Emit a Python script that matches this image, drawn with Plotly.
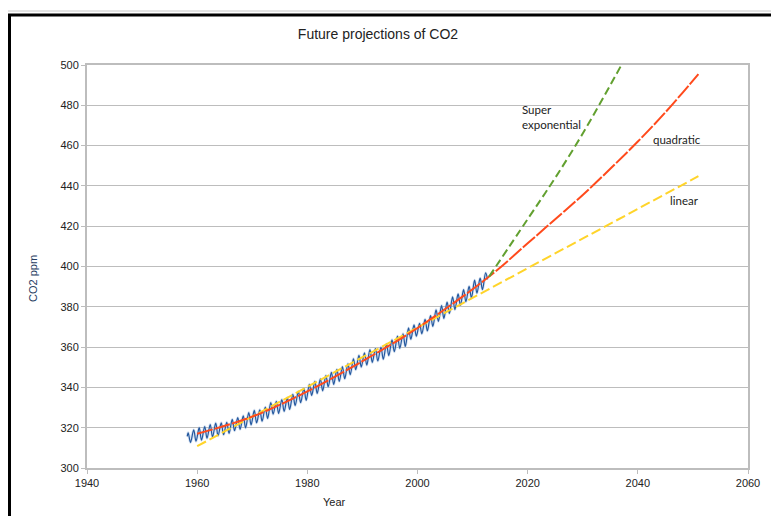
import plotly.graph_objects as go

# ---------------- data ----------------
years = list(range(1958, 2013))
may_peak = [317.5, 318.9, 320.0, 320.6, 321.6, 322.3, 322.4, 322.7, 324.1, 325.0,
            325.9, 327.5, 328.6, 328.9, 330.2, 332.5, 333.1, 334.0, 334.9, 336.6,
            338.0, 339.5, 341.5, 343.0, 344.2, 345.9, 347.5, 348.9, 350.3, 351.7,
            354.2, 355.9, 357.1, 358.7, 359.3, 359.9, 361.6, 363.6, 365.4, 366.6,
            369.5, 371.0, 371.8, 373.8, 375.6, 378.5, 380.6, 382.3, 384.9, 386.4,
            388.5, 390.2, 393.2, 394.2, 396.8]
oct_trough = [312.7, 313.3, 313.8, 314.8, 315.4, 316.0, 316.5, 317.2, 318.5, 319.2,
              319.9, 321.4, 322.4, 323.2, 324.6, 326.7, 327.1, 328.1, 329.1, 331.0,
              332.4, 333.6, 336.0, 337.0, 338.3, 340.3, 341.5, 343.0, 344.3, 346.3,
              348.8, 350.1, 351.1, 352.4, 353.1, 354.0, 355.8, 357.7, 359.4, 360.3,
              363.9, 365.4, 366.6, 368.0, 370.3, 372.8, 374.2, 376.7, 378.6, 380.7,
              382.5, 384.4, 386.8, 388.5, 391.0]
start_point = (1958.2, 315.7)
end_point = (2012.7, 393.6)

quad_years = [1960, 1970, 1980, 1990, 2000, 2013, 2020, 2025, 2030, 2035, 2040, 2045, 2051]
quad_vals = [317.0, 325.5, 338.0, 353.0, 369.5, 395.0, 411.5, 423.5, 435.5, 448.5, 462.0, 476.5, 495.5]

lin_years = [1960, 2051]
lin_vals = [310.8, 444.8]

sup_years = [2013, 2020, 2025, 2030, 2035, 2040]
sup_vals = [395.0, 423.5, 444.0, 466.0, 490.0, 515.0]

x_ticks = [1940, 1960, 1980, 2000, 2020, 2040, 2060]
y_ticks = [300, 320, 340, 360, 380, 400, 420, 440, 460, 480, 500]

# ---------------- build monthly zig-zag series ----------------
bx, by = [start_point[0]], [start_point[1]]
for yr, p, t in zip(years, may_peak, oct_trough):
    bx.append(yr + 0.37); by.append(p)
    if yr < 2012:
        bx.append(yr + 0.79); by.append(t)
bx.append(end_point[0]); by.append(end_point[1])

# figure geometry (page is offset by the 8px body margin)
W, H = 771, 508
ML, MR, MT, MB = 79, 31, 57, 48
PW, PH = W - ML - MR, H - MT - MB

fig = go.Figure()
fig.add_trace(go.Scatter(x=bx, y=by, mode="lines", line=dict(color="#a9c2e4", width=3, shape="spline"),
                         opacity=0.45, showlegend=False, hoverinfo="skip"))
fig.add_trace(go.Scatter(x=bx, y=by, mode="lines", line=dict(color="#24589e", width=1.2, shape="spline"),
                         showlegend=False))
fig.add_trace(go.Scatter(x=lin_years, y=lin_vals, mode="lines",
                         line=dict(color="#ffd42a", width=2, dash="10px,4px"), showlegend=False))
fig.add_trace(go.Scatter(x=quad_years, y=quad_vals, mode="lines",
                         line=dict(color="#ff4a1c", width=2, dash="16px,2px", shape="spline"), showlegend=False))
fig.add_trace(go.Scatter(x=sup_years, y=sup_vals, mode="lines",
                         line=dict(color="#62a030", width=2, dash="8px,4px", shape="spline"), showlegend=False))

tick_font = dict(family="Liberation Sans Narrow, Liberation Sans, Arial", size=11, color="#222222")
grid_col = "#bdbdbd"

fig.update_xaxes(range=[1940, 2060], tickvals=x_ticks, showgrid=False, zeroline=False,
                 showline=True, linecolor=grid_col, linewidth=2, mirror=True,
                 ticks="outside", ticklen=4, tickcolor=grid_col, tickfont=tick_font)
fig.update_yaxes(range=[300, 500], tickvals=y_ticks, showgrid=True, gridcolor=grid_col, gridwidth=1,
                 zeroline=False, showline=True, linecolor=grid_col, linewidth=2, mirror=True,
                 ticks="outside", ticklen=4, tickcolor=grid_col, tickfont=tick_font)

lab_font = dict(family="Lato, Open Sans, sans-serif", size=11.5, color="#222222")
fig.add_annotation(x=2018.6, y=474.0, text="Super<br>exponential", showarrow=False,
                   xanchor="left", yanchor="middle", align="left", font=lab_font)
fig.add_annotation(x=2042.4, y=462.8, text="quadratic", showarrow=False,
                   xanchor="left", yanchor="middle", font=lab_font)
fig.add_annotation(x=2045.5, y=433.0, text="linear", showarrow=False,
                   xanchor="left", yanchor="middle", font=lab_font)

fig.add_annotation(xref="paper", yref="paper", x=(334 - 87) / PW, y=(468 - 502) / PH,
                   text="Year", showarrow=False, xanchor="center", yanchor="middle",
                   font=dict(family="Liberation Sans Narrow, Liberation Sans, Arial", size=11, color="#222222"))
fig.add_annotation(xref="paper", yref="paper", x=(33 - 87) / PW, y=(468 - 279) / PH,
                   text="CO2 ppm", textangle=-90, showarrow=False, xanchor="center", yanchor="middle",
                   font=dict(family="Liberation Sans Narrow, Liberation Sans, Arial", size=11, color="#243a5e"))

# outer frame
fig.add_shape(type="rect", xref="paper", yref="paper",
              x0=(1.5 - ML) / PW, x1=(W + 30 - ML) / PW, y0=(PH + MT - (H + 30)) / PH, y1=(PH + MT - 7) / PH,
              line=dict(color="black", width=3), fillcolor="rgba(0,0,0,0)", layer="above")
fig.add_shape(type="line", xref="paper", yref="paper",
              x0=-0.2, x1=1.1, y0=(PH + MT - 3) / PH, y1=(PH + MT - 3) / PH,
              line=dict(color="#c8c8c8", width=1))

fig.update_layout(
    width=W, height=H,
    margin=dict(l=ML, r=MR, t=MT, b=MB),
    paper_bgcolor="white", plot_bgcolor="white",
    title=dict(text="Future projections of CO2", x=370 / W, xref="container", xanchor="center",
               y=1 - 26 / H, yref="container", yanchor="middle",
               font=dict(family="Liberation Sans, Arial", size=14, color="#222222")),
    showlegend=False,
)

fig.write_html("out.html")
